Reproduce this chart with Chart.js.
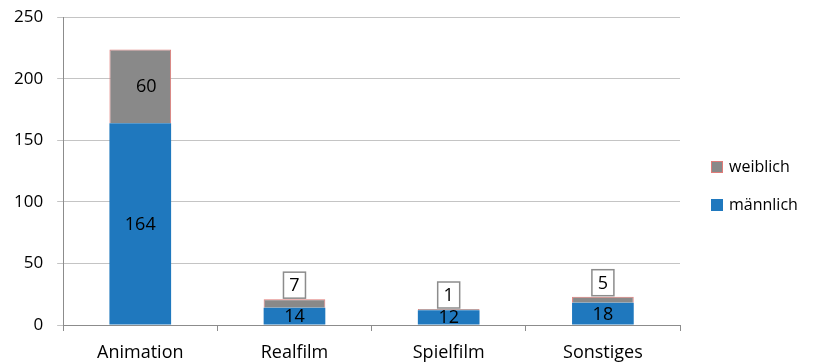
<!DOCTYPE html>
<html>
<head>
<meta charset="utf-8">
<script src="https://cdn.jsdelivr.net/npm/chart.js@4/dist/chart.umd.min.js"></script>
<style>
  html, body { margin: 0; padding: 0; background: #fff; }
  #wrap { width: 818px; height: 363px; }
</style>
</head>
<body>
<div id="wrap"><canvas id="c" width="818" height="363"></canvas></div>
<script>
const categories = ['Animation', 'Realfilm', 'Spielfilm', 'Sonstiges'];
const maennlich = [164, 14, 12, 18];
const weiblich = [60, 7, 1, 5];
const yTicks = [0, 50, 100, 150, 200, 250];

const FONT = '"Open Sans", sans-serif';

// values in weiblich smaller than this get a boxed label above the bar
const boxLimit = 20;

const labelPlugin = {
  id: 'barLabels',
  afterDatasetsDraw(chart) {
    const ctx = chart.ctx;
    ctx.save();
    ctx.font = '18px ' + FONT;
    ctx.textAlign = 'center';
    ctx.textBaseline = 'middle';
    chart.data.datasets.forEach((ds, di) => {
      const meta = chart.getDatasetMeta(di);
      meta.data.forEach((bar, i) => {
        const v = ds.data[i];
        const txt = String(v);
        if (ds.label === 'weiblich' && v < boxLimit) {
          const w = 22, h = 26;
          const bx = bar.x - w / 2;
          const by = bar.y - h - 1;
          ctx.fillStyle = '#fff';
          ctx.fillRect(bx, by, w, h);
          ctx.strokeStyle = '#8c8c8c';
          ctx.lineWidth = 1.5;
          ctx.strokeRect(bx, by, w, h);
          ctx.fillStyle = '#000';
          ctx.fillText(txt, bar.x, by + h / 2 + 1);
        } else {
          const cy = (bar.y + bar.base) / 2 + 1;
          const cx = (ds.label === 'weiblich') ? bar.x + 6 : bar.x;
          ctx.fillStyle = '#000';
          ctx.fillText(txt, cx, cy);
        }
      });
    });
    ctx.restore();
  }
};

// legend on the right, weiblich above männlich
const legendPlugin = {
  id: 'sideLegend',
  afterDraw(chart) {
    const ctx = chart.ctx;
    const area = chart.chartArea;
    const items = chart.data.datasets.slice().reverse();
    ctx.save();
    ctx.font = '16px ' + FONT;
    ctx.textBaseline = 'middle';
    ctx.textAlign = 'left';
    items.forEach((ds, i) => {
      const x = area.right + 31;
      const y = 167 + i * 38;
      ctx.fillStyle = ds.backgroundColor;
      ctx.fillRect(x, y - 6, 12, 12);
      if (ds.borderWidth) {
        ctx.strokeStyle = ds.borderColor;
        ctx.lineWidth = 1;
        ctx.strokeRect(x + 0.5, y - 5.5, 11, 11);
      }
      ctx.fillStyle = '#000';
      ctx.fillText(ds.label, x + 18, y);
    });
    ctx.restore();
  }
};

new Chart(document.getElementById('c'), {
  type: 'bar',
  data: {
    labels: categories,
    datasets: [
      {
        label: 'männlich',
        data: maennlich,
        backgroundColor: '#1f78be',
        borderWidth: 0,
        barPercentage: 0.8,
        categoryPercentage: 0.5
      },
      {
        label: 'weiblich',
        data: weiblich,
        backgroundColor: '#898989',
        borderColor: '#e07b78',
        borderWidth: 1,
        barPercentage: 0.8,
        categoryPercentage: 0.5
      }
    ]
  },
  options: {
    responsive: false,
    animation: false,
    layout: { padding: { top: 0, right: 138, left: 0, bottom: 0 } },
    plugins: {
      tooltip: { enabled: false },
      legend: { display: false }
    },
    scales: {
      x: {
        stacked: true,
        afterFit(scale) { scale.height = 38; },
        grid: { display: true, drawOnChartArea: false, offset: true, tickLength: 6, color: '#8c8c8c' },
        border: { color: '#8c8c8c' },
        ticks: { color: '#000', padding: 15, font: { family: FONT, size: 18, lineHeight: 0.8 } }
      },
      y: {
        stacked: true,
        min: 0,
        max: 250,
        afterBuildTicks(scale) { scale.ticks = yTicks.map(v => ({ value: v })); },
        grid: { color: '#c4c4c4', tickLength: 6 },
        border: { color: '#8c8c8c' },
        ticks: { color: '#000', padding: 14, font: { family: FONT, size: 17, lineHeight: 0.4 } }
      }
    }
  },
  plugins: [labelPlugin, legendPlugin]
});
</script>
</body>
</html>
